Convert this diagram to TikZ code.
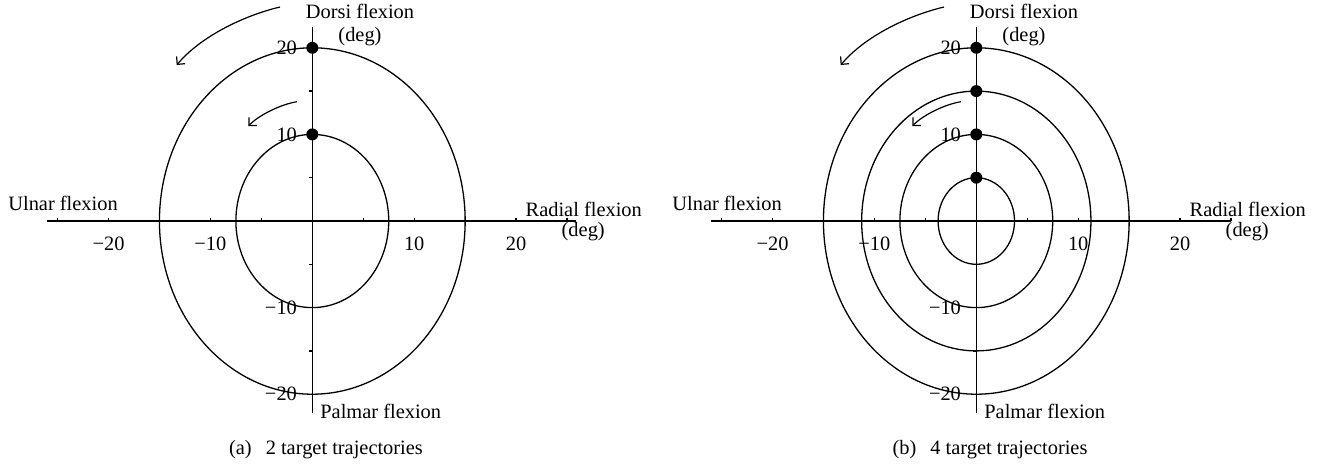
\documentclass[tikz,border=0pt]{standalone}
\usepackage{fontspec}
\setmainfont{Liberation Serif}
\usetikzlibrary{arrows.meta}
\tikzset{
  ln/.style={line width=0.65pt},
  lbl/.style={inner sep=0pt, font=\fontsize{10.2}{12}\selectfont},
  dotc/.style={circle, fill=black, inner sep=0pt, minimum size=6pt},
  arr/.style={line width=0.6pt, -{Straight Barb[length=2.8pt,width=5.6pt]}},
}
% #1 prefix, #2 right end of x axis (px), #3 caption
\newcommand\wristpanel[3]{%
  \draw[ln] (-265,0) -- (#2,0);
  \draw[ln] (0,-194) -- (0,192);
  \foreach \k in {-25,-20,-15,-10,-5,5,10,15,20,25}
    \draw[ln] (\k*10.19,0) -- (\k*10.19,-3.5);
  \foreach \k in {-20,-15,-10,-5,5,10,15,20}
    \draw[ln] (0,\k*8.66) -- (-3.5,\k*8.66);
  \node[lbl, anchor=base] (#1-xm20) at (-20*10.19,29) {−20};
  \node[lbl, anchor=base] (#1-xm10) at (-10*10.19,29) {−10};
  \node[lbl, anchor=base] (#1-xp10) at (10*10.19,29) {10};
  \node[lbl, anchor=base] (#1-xp20) at (20*10.19,29) {20};
  \node[lbl, anchor=east] (#1-yp20) at (-15,-20*8.66) {20};
  \node[lbl, anchor=east] (#1-yp10) at (-15,-10*8.66) {10};
  \node[lbl, anchor=east] (#1-ym10) at (-15,10*8.66) {−10};
  \node[lbl, anchor=east] (#1-ym20) at (-15,20*8.66) {−20};
  \node[lbl, anchor=base west] (#1-ulnar) at (-304.3,-11) {Ulnar flexion};
  \node[lbl, anchor=base west] (#1-radial) at (213,-4.3) {Radial flexion};
  \node[lbl, anchor=base west] (#1-radialdeg) at (249,15.7) {(deg)};
  \node[lbl, anchor=base] (#1-dorsi) at (47.7,-203) {Dorsi flexion};
  \node[lbl, anchor=base] (#1-dorsideg) at (47.7,-179.3) {(deg)};
  \node[lbl, anchor=base west] (#1-palmar) at (7.7,197) {Palmar flexion};
  \node[lbl, anchor=base] (#1-cap) at (13.7,233) {#3};
  \coordinate (#1-os) at (-32.3,-214);
  \coordinate (#1-ot) at (-135.6,-156);
  \coordinate (#1-is) at (-15.3,-119.3);
  \coordinate (#1-it) at (-64,-95);
  \draw[arr] (#1-os) .. controls (-70,-205) and (-112,-184) .. (#1-ot);
  \draw[arr] (#1-is) .. controls (-30,-117) and (-52,-107) .. (#1-it);
}
\begin{document}
\begin{tikzpicture}[x=0.5pt,y=-0.5pt]
\useasboundingbox (0,0) rectangle (1324,463);
% panel (a)
\begin{scope}[shift={(312.3,221)}]
  \wristpanel{a}{264}{(a)\hspace{7pt}2 target trajectories}
  \draw[ln] (0,0) ellipse [x radius=76.43pt, y radius=86.6pt];
  \draw[ln] (0,0) ellipse [x radius=38.21pt, y radius=43.3pt];
  \node[dotc] (a-d20) at (0,-173.2) {};
  \node[dotc] (a-d10) at (0,-86.6) {};
\end{scope}
% panel (b)
\begin{scope}[shift={(976.3,221)}]
  \wristpanel{b}{255}{(b)\hspace{7pt}4 target trajectories}
  \draw[ln] (0,0) ellipse [x radius=76.43pt, y radius=86.6pt];
  \draw[ln] (0,0) ellipse [x radius=57.32pt, y radius=64.95pt];
  \draw[ln] (0,0) ellipse [x radius=38.21pt, y radius=43.3pt];
  \draw[ln] (0,0) ellipse [x radius=19.11pt, y radius=21.65pt];
  \node[dotc] (b-d20) at (0,-173.2) {};
  \node[dotc] (b-d15) at (0,-129.9) {};
  \node[dotc] (b-d10) at (0,-86.6) {};
  \node[dotc] (b-d5) at (0,-43.3) {};
\end{scope}
\end{tikzpicture}
\end{document}
